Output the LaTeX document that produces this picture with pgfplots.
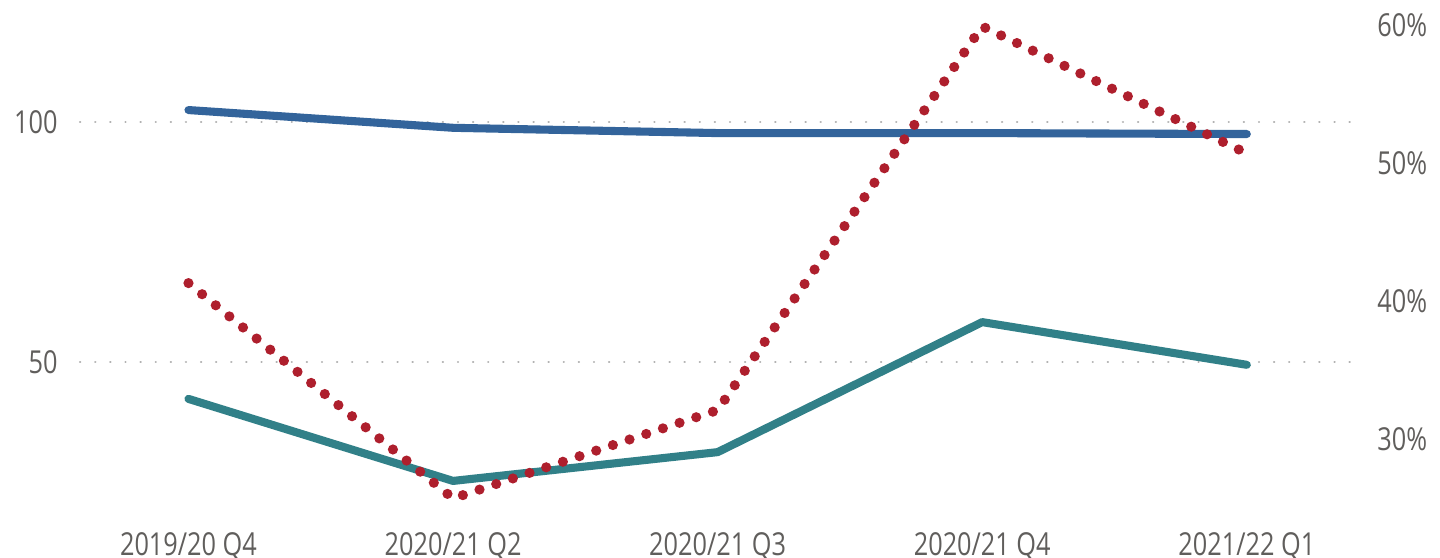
\documentclass[border=0pt]{standalone}
\usepackage{fontspec}
\setmainfont{Open Sans}[FakeStretch=0.8]
\usepackage{pgfplots}
\pgfplotsset{compat=1.18}

\definecolor{txtgray}{HTML}{605E5C}
\definecolor{lineblue}{HTML}{33649B}
\definecolor{lineteal}{HTML}{318088}
\definecolor{linered}{HTML}{AE1F2D}

\pgfplotsset{
  base/.style={
    scale only axis, width=12.7cm, height=5.1cm,
    xmin=-0.41, xmax=4.39,
    axis line style={draw=none},
    tick style={draw=none},
    ticklabel style={font=\fontsize{9}{10}\selectfont, text=txtgray},
    /pgf/number format/assume math mode=true,
  }
}

\begin{document}
\begin{tikzpicture}
\path[use as bounding box] (-0.8cm,-0.43cm) rectangle (13.6cm,5.15cm);

\begin{axis}[base,
    ymin=18.1, ymax=124.4,
    xtick={0,1,2,3,4},
    xticklabels={2019/20 Q4, 2020/21 Q2, 2020/21 Q3, 2020/21 Q4, 2021/22 Q1},
    ytick={50,100},
    ymajorgrids,
    grid style={gray!60, line width=0.6pt, dash pattern=on 0.1pt off 4.2pt, line cap=round},
    yticklabel style={xshift=-1mm},
    xticklabel style={yshift=-0.5mm},
    clip=false]
\addplot[lineblue, line width=2.3pt, line cap=round, line join=round] coordinates {
  (0,102.5) (1,98.8) (2,97.7) (3,97.7) (4,97.5)};
\addplot[lineteal, line width=2.3pt, line cap=round, line join=round] coordinates {
  (0,42.3) (1,25.2) (2,31.2) (3,58.3) (4,49.4)};
\end{axis}

\begin{axis}[base,
    ymin=24.5, ymax=61.45,
    axis y line*=right, axis x line=none,
    xtick=\empty,
    ytick={30,40,50,60},
    yticklabel={\pgfmathprintnumber{\tick}\%},
    yticklabel style={xshift=1.5mm},
    clip=false]
\addplot[linered, line width=2.9pt, line cap=round, dash pattern=on 0pt off 5pt] coordinates {
  (0,41.3) (1,25.7) (2,32.1) (3,59.9) (4,50.7)};
\end{axis}
\end{tikzpicture}
\end{document}
